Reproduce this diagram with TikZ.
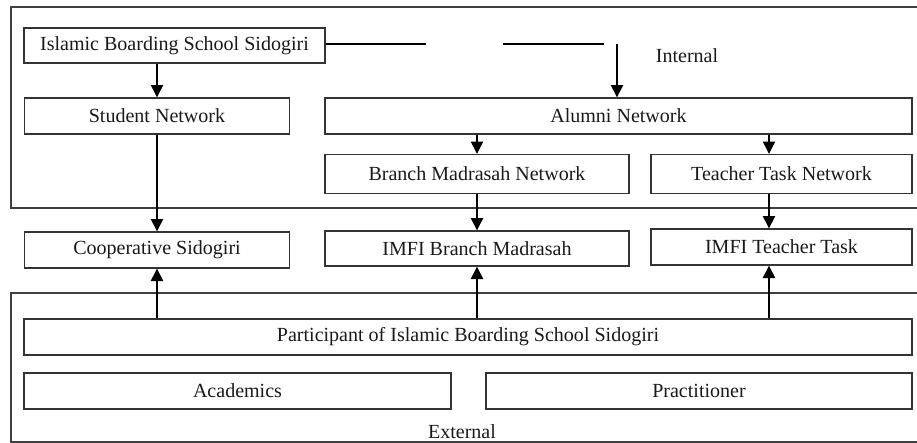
\documentclass[tikz,border=0pt]{standalone}
\usepackage{fontspec}
\setmainfont{Liberation Serif}
\usepackage{tikz}
\usetikzlibrary{arrows.meta,positioning,calc}

\begin{document}
\begin{tikzpicture}[x=0.02cm,y=-0.02cm,>={Triangle[width=7pt,length=7pt]},line width=0.8pt,
    every node/.style={font=\fontsize{11.4}{13}\selectfont, text=black!90},
    box/.style={draw=black!80,rectangle,inner sep=0pt,minimum height=0.72cm},
    frame/.style={draw=black!75}]

    \useasboundingbox (0,0) rectangle (917,443);

    % internal / external frames
    \draw[frame] (925,7) -- (11,7) -- (11,208) -- (925,208);
    \draw[frame] (925,293) -- (11,293) -- (11,442) -- (925,442);

    \node at (687,56) (internal) {Internal};
    \node at (462,432) (external) {External};

    \node[box,minimum width=6.02cm,minimum height=0.70cm](school) at (174.5,45.5) {Islamic Boarding School Sidogiri};
    \node[box,minimum width=5.30cm](student) at (157,116) {Student Network};
    \node[box,minimum width=11.74cm](alumni) at (618.5,116) {Alumni Network};
    \node[box,minimum width=6.08cm,minimum height=0.78cm](branch) at (477,174) {Branch Madrasah Network};
    \node[box,minimum width=5.22cm,minimum height=0.78cm](teacher) at (781.5,174) {Teacher Task Network};

    \node[box,minimum width=5.30cm](coop) at (157,250) {Cooperative Sidogiri};
    \node[box,minimum width=6.08cm,minimum height=0.70cm](imfib) at (477,248.5) {IMFI Branch Madrasah};
    \node[box,minimum width=5.22cm](imfit) at (781.5,247) {IMFI Teacher Task};

    \node[box,minimum width=17.76cm](participant) at (468,337) {Participant of Islamic Boarding School Sidogiri};
    \node[box,minimum width=8.54cm](academics) at (237.5,391) {Academics};
    \node[box,minimum width=8.52cm](practitioner) at (699,391) {Practitioner};

    \coordinate (gapa) at (426,44);
    \coordinate (gapb) at (503,44);
    \coordinate (gapc) at (604,44);
    \coordinate (down) at (617,44);

    \draw (school.east |- gapa) -- (gapa);
    \draw (gapb) -- (gapc);
    \draw[->] (down) -- (alumni.north -| down);

    \draw[->] (school.south -| student) -- (student);
    \draw[->] (student) -- (coop);
    \draw[->] (alumni.south -| branch) -- (branch);
    \draw[->] ([xshift=-0.25cm]alumni.south -| teacher) -- ([xshift=-0.25cm]teacher.north);
    \draw[->] (branch) -- (imfib);
    \draw[->] ([xshift=-0.25cm]teacher.south) -- ([xshift=-0.25cm]imfit.north);

    \draw[->] (participant.north -| coop) -- (coop);
    \draw[->] (participant.north -| imfib) -- (imfib);
    \draw[->] ([xshift=-0.25cm]participant.north -| imfit) -- ([xshift=-0.25cm]imfit.south);

\end{tikzpicture}
\end{document}
